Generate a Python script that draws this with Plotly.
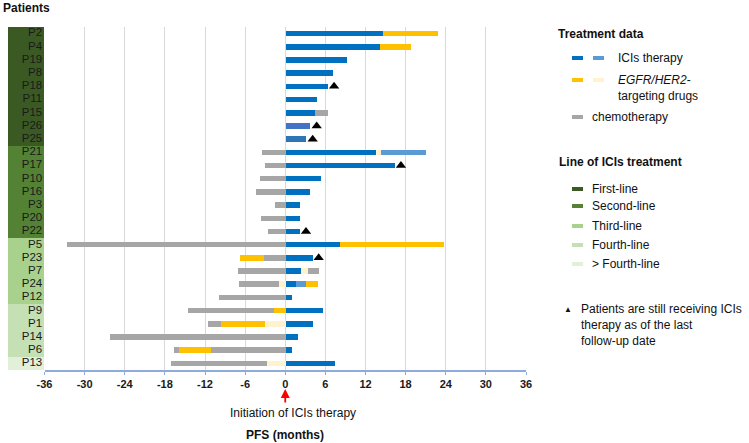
import plotly.graph_objects as go

# ---------------- data ----------------
patients = ["P2", "P4", "P19", "P8", "P18", "P11", "P15", "P26", "P25",
            "P21", "P17", "P10", "P16", "P3", "P20", "P22",
            "P5", "P23", "P7", "P24", "P12",
            "P9", "P1", "P14", "P6",
            "P13"]
ici_line = (["First-line"] * 9 + ["Second-line"] * 7 + ["Third-line"] * 5
            + ["Fourth-line"] * 4 + ["> Fourth-line"] * 1)

# first segment to the right of 0 (ICIs therapy), months
r1_months = [14.5, 14.1, 9.1, 7.0, 6.3, 4.7, 4.3, 3.7, 3.1,
             13.5, 16.3, 5.2, 3.7, 2.2, 2.1, 2.1,
             8.1, 4.0, 2.3, 1.6, 0.9,
             5.5, 4.1, 1.9, 0.9,
             7.4]
r1_kind = ["ici"] * 7 + ["ici_b", "ici_c"] + ["ici"] * 17

# further segments to the right
r2_patients = ["P2", "P4", "P15", "P21", "P5", "P7", "P24"]
r2_months = [8.3, 4.7, 2.0, 0.7, 15.6, 1.1, 1.5]
r2_kind = ["egfr", "egfr", "chemo", "egfr_light", "egfr", "egfr_light", "ici_light"]

r3_patients = ["P21", "P7", "P24"]
r3_months = [6.8, 1.6, 1.65]
r3_kind = ["ici_light", "chemo", "egfr"]

# segments to the left of 0 (prior treatment), months (nearest to 0 first)
l1_patients = ["P21", "P17", "P10", "P16", "P3", "P20", "P22", "P5", "P23", "P7",
               "P24", "P12", "P9", "P1", "P14", "P6", "P13"]
l1_months = [3.6, 3.1, 3.8, 4.4, 1.6, 3.75, 2.7, 32.7, 3.3, 7.2,
             0.95, 10.0, 1.75, 3.1, 26.3, 11.15, 2.85]
l1_kind = ["chemo"] * 10 + ["egfr_light", "chemo", "egfr", "egfr_light", "chemo", "chemo", "egfr_light"]

l2_patients = ["P23", "P24", "P9", "P1", "P6", "P13"]
l2_months = [3.5, 6.05, 12.9, 6.55, 4.75, 14.35]
l2_kind = ["egfr", "chemo", "chemo", "egfr", "egfr", "chemo"]

l3_patients = ["P1", "P6"]
l3_months = [2.0, 0.8]
l3_kind = ["chemo", "chemo"]

ongoing_patients = ["P18", "P26", "P25", "P17", "P22", "P23"]

x_ticks = [-36, -30, -24, -18, -12, -6, 0, 6, 12, 18, 24, 30, 36]

# ---------------- styles ----------------
kind_colors = {"ici": "#0070c0", "ici_b": "#4472c4", "ici_c": "#2e75b6",
               "ici_light": "#5b9bd5", "egfr": "#ffc000", "egfr_light": "#fff2cc",
               "chemo": "#a6a6a6"}
line_colors = {"First-line": "#3b5a23", "Second-line": "#548235",
               "Third-line": "#a9d18e", "Fourth-line": "#c5e0b4",
               "> Fourth-line": "#e2f0d9"}
FONT = "Liberation Sans, Arial, sans-serif"
BAR_W = 0.42

W, H = 749, 443
ML, MR, MT, MB = 8, 223, 27, 73
PW, PH = W - ML - MR, H - MT - MB


def px(x):
    return (x - ML) / PW


def py(y):
    return (H - MB - y) / PH


fig = go.Figure()

segments = [
    (patients, r1_months, r1_kind, 1),
    (r2_patients, r2_months, r2_kind, 1),
    (r3_patients, r3_months, r3_kind, 1),
    (l1_patients, l1_months, l1_kind, -1),
    (l2_patients, l2_months, l2_kind, -1),
    (l3_patients, l3_months, l3_kind, -1),
]
for pts, months, kinds, sign in segments:
    fig.add_trace(go.Bar(
        y=pts, x=[sign * m for m in months], orientation="h",
        marker=dict(color=[kind_colors[k] for k in kinds], line=dict(width=0)),
        width=BAR_W, showlegend=False, hoverinfo="x+y",
        xaxis="x", yaxis="y"))

# ongoing triangles placed after the end of right-side bars
right_end = {p: 0.0 for p in patients}
for pts, months, _k, sign in segments[:3]:
    for p, m in zip(pts, months):
        right_end[p] += m
fig.add_trace(go.Scatter(
    y=ongoing_patients, x=[right_end[p] + 1.0 for p in ongoing_patients],
    mode="markers", marker=dict(symbol="triangle-up", size=9, color="black"),
    showlegend=False, xaxis="x", yaxis="y", hoverinfo="skip"))

# patient label column
fig.add_trace(go.Bar(
    y=patients, x=[1] * len(patients), orientation="h", width=1,
    marker=dict(color=[line_colors[l] for l in ici_line], line=dict(width=0)),
    showlegend=False, xaxis="x2", yaxis="y", hoverinfo="skip"))
fig.add_trace(go.Scatter(
    y=patients, x=[0.95] * len(patients), mode="text", text=patients,
    textposition="middle left", textfont=dict(family=FONT, size=11.5, color="#1a1a1a"),
    showlegend=False, xaxis="x2", yaxis="y", hoverinfo="skip"))

fig.update_layout(
    width=W, height=H, margin=dict(l=ML, r=MR, t=MT, b=MB, pad=0),
    paper_bgcolor="white", plot_bgcolor="white",
    barmode="relative", bargap=0,
    font=dict(family=FONT, size=11, color="#222222"),
    xaxis=dict(domain=[px(44.5), 1], range=[-36, 36], tickvals=x_ticks,
               ticktext=["<b>%d</b>" % t for t in x_ticks],
               showgrid=True, gridcolor="#d9d9d9", gridwidth=1, zeroline=False,
               showline=True, linecolor="#8faadc", linewidth=1.5,
               ticks="outside", ticklen=3, tickcolor="#8faadc",
               tickfont=dict(family=FONT, size=11, color="#1a1a1a"),
               automargin=False, fixedrange=True),
    xaxis2=dict(domain=[0, px(44)], range=[0, 1], showgrid=False, zeroline=False,
                showticklabels=False, anchor="y", automargin=False),
    yaxis=dict(categoryorder="array", categoryarray=patients,
               range=[len(patients) - 0.5, -0.5], showticklabels=False,
               showgrid=False, zeroline=False, showline=False, automargin=False),
)

ann = []
shapes = []


def text(x, y, s, size=12, bold=False, anchor="left", color="#111111"):
    ann.append(dict(x=px(x), y=py(y), xref="paper", yref="paper", text=s,
                    showarrow=False, xanchor=anchor, yanchor="middle",
                    font=dict(family=FONT, size=size, color=color)))


def swatch(x0, x1, y, color, h=4):
    shapes.append(dict(type="rect", xref="paper", yref="paper",
                       x0=px(x0), x1=px(x1), y0=py(y + h / 2), y1=py(y - h / 2),
                       fillcolor=color, line=dict(width=0)))


text(1, 8, "<b>Patients</b>", size=12)
text(556, 34, "<b>Treatment data</b>", size=12)
swatch(572, 583, 58, kind_colors["ici"])
swatch(593, 604, 58, kind_colors["ici_light"])
text(616, 58, "ICIs therapy")
swatch(572, 583, 80, kind_colors["egfr"])
swatch(593, 604, 80, kind_colors["egfr_light"])
text(616, 80, "<i>EGFR/HER2</i>-")
text(616, 96, "targeting drugs")
swatch(572, 583, 117, kind_colors["chemo"])
text(590, 117, "chemotherapy")
text(557, 162, "<b>Line of ICIs treatment</b>", size=12)
for yy, lab in zip([189, 206, 226, 245, 264], list(line_colors)):
    swatch(572, 583, yy, line_colors[lab])
    text(590, yy, lab)
text(568, 309, "▲", size=8, anchor="center")
text(579, 309, "Patients are still receiving ICIs")
text(579, 325, "therapy as of the last")
text(579, 341, "follow-up date")

text(293, 413, "Initiation of ICIs therapy", size=12, anchor="center")
text(285, 435, "<b>PFS (months)</b>", size=12, anchor="center")

ann.append(dict(x=0, xref="x", y=py(389), yref="paper", text="", showarrow=True,
                ax=0, ay=15, arrowhead=2, arrowsize=1, arrowwidth=1.8,
                arrowcolor="#ff0000"))

fig.update_layout(annotations=ann, shapes=shapes)
fig.write_html("out.html", config={"displayModeBar": False},
               post_script="document.body.style.margin='0';document.body.style.padding='0';")
